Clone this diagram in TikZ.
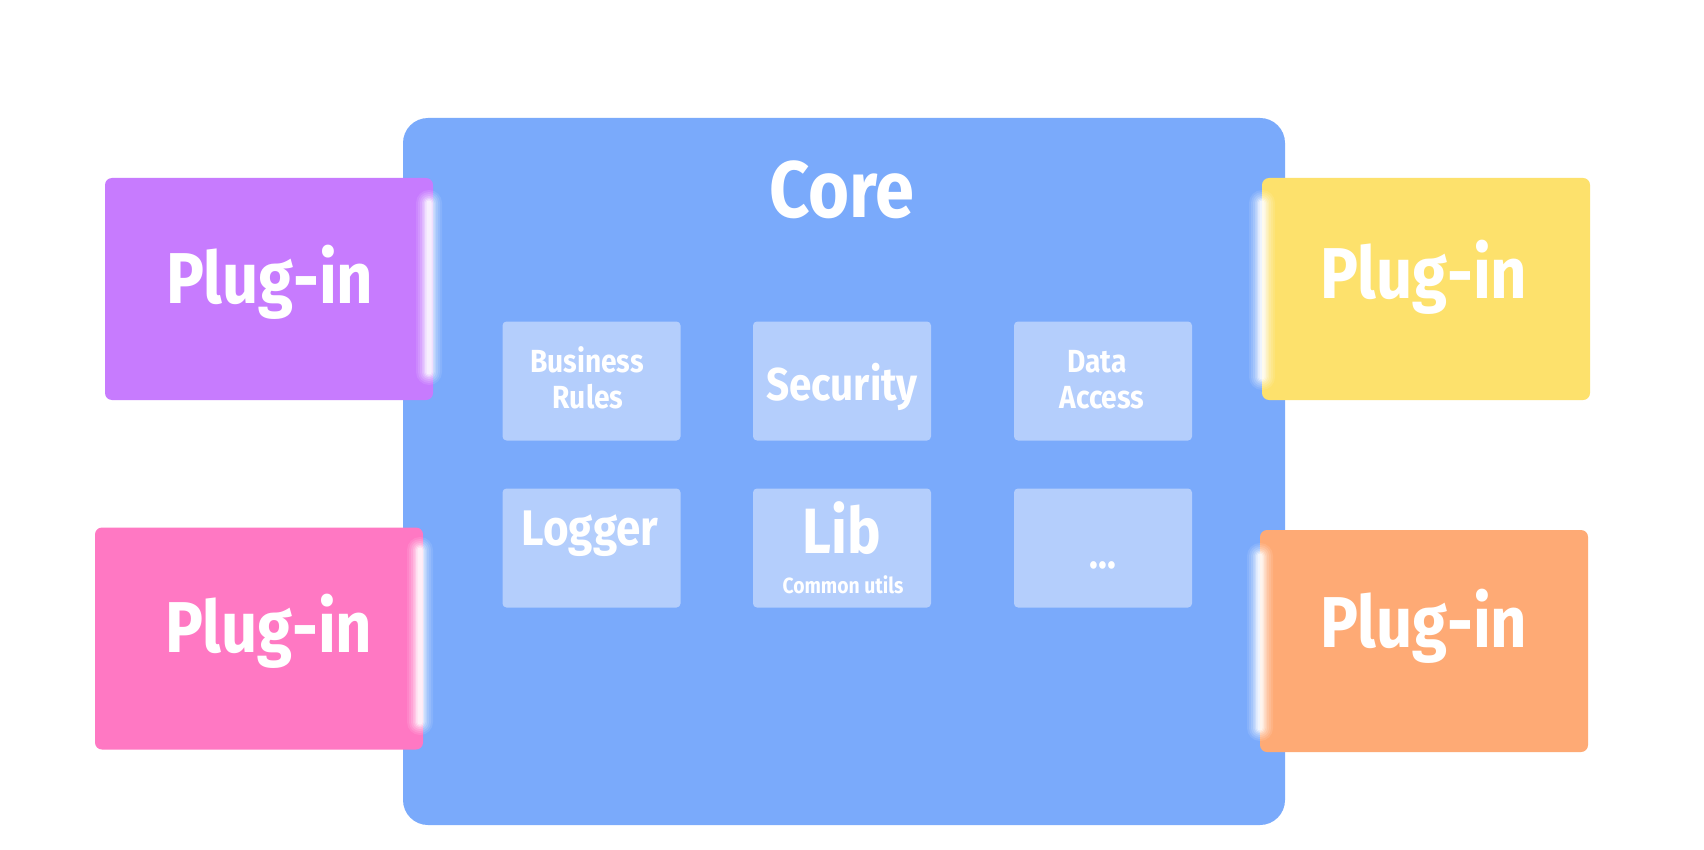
\documentclass[tikz,border=0pt]{standalone}
\usepackage{fontspec}
\setmainfont{Fira Sans}[FakeStretch=0.88]
\definecolor{corebg}{HTML}{7AAAFB}
\definecolor{innerbg}{HTML}{B4CEFC}
\definecolor{plpurple}{HTML}{C77BFE}
\definecolor{plpink}{HTML}{FF78C3}
\definecolor{plyellow}{HTML}{FDE16C}
\definecolor{plorange}{HTML}{FEAA75}
\newcommand{\GlowBar}[3]{%
  \foreach \w/\o in {13/0.10, 11/0.12, 9/0.15, 7/0.2, 5.5/0.28, 4/0.38, 2.5/0.5}{%
    \fill[white,opacity=\o,rounded corners=\w pt] (#1-\w,#2+8-\w) rectangle (#1+\w,#3-8+\w);
  }%
}
\begin{document}
\begin{tikzpicture}[x=1pt,y=-1pt,
  corebox/.style={fill=corebg,rounded corners=25pt,inner sep=0pt,minimum width=882pt,minimum height=707pt},
  plugbox/.style={rounded corners=7pt,inner sep=0pt,minimum width=328pt,minimum height=222pt},
  innerbox/.style={fill=innerbg,rounded corners=4pt,inner sep=0pt,minimum width=178pt,minimum height=119pt},
  plugtxt/.style={text=white,anchor=base,inner sep=0pt,font=\fontsize{72}{72}\selectfont\bfseries},
  coretxt/.style={text=white,anchor=base,inner sep=0pt,font=\fontsize{80}{80}\selectfont\bfseries},
  intxt/.style={text=white,anchor=base,inner sep=0pt,font=\fontsize{#1}{#1}\selectfont\bfseries},
]
\fill[white] (0,0) rectangle (1704,850);
\useasboundingbox (0,0) rectangle (1704,850);

% core
\node[corebox] (core) at (844,471.5) {};
\node[coretxt] (coret) at (842,218) {Core};

% inner modules
\node[innerbox] (biz) at (591.5,381) {};
\node[innerbox] (sec) at (842,381) {};
\node[innerbox] (dat) at (1103,381) {};
\node[innerbox] (log) at (591.5,548) {};
\node[innerbox] (lib) at (842,548) {};
\node[innerbox] (etc) at (1103,548) {};

\node[intxt=32] (biz1) at (587,372) {Business};
\node[intxt=32] (biz2) at (588,408) {Rules};
\node[intxt=46] (sect) at (842,400) {Security};
\node[intxt=32] (dat1) at (1097,372) {Data};
\node[intxt=32] (dat2) at (1102,408) {Access};
\node[intxt=50] (logt) at (590,545) {Logger};
\node[intxt=64] (libt) at (842,553) {Lib};
\node[intxt=22] (libs) at (843,593) {Common utils};
\node[intxt=42] (etct) at (1103,568) {...};

% plug-ins
\node[plugbox,fill=plpurple] (p1) at (269,289) {};
\node[plugbox,fill=plpink] (p2) at (259,638.5) {};
\node[plugbox,fill=plyellow] (p3) at (1426,289) {};
\node[plugbox,fill=plorange] (p4) at (1424,641) {};

\node[plugtxt] (p1t) at (270,303) {Plug-in};
\node[plugtxt] (p2t) at (269,652) {Plug-in};
\node[plugtxt] (p3t) at (1424,298) {Plug-in};
\node[plugtxt] (p4t) at (1424,647) {Plug-in};

% glow strips at the joints
\GlowBar{429}{195}{380}
\GlowBar{420}{542}{730}
\GlowBar{1262}{195}{385}
\GlowBar{1260}{548}{736}
\end{tikzpicture}
\end{document}
